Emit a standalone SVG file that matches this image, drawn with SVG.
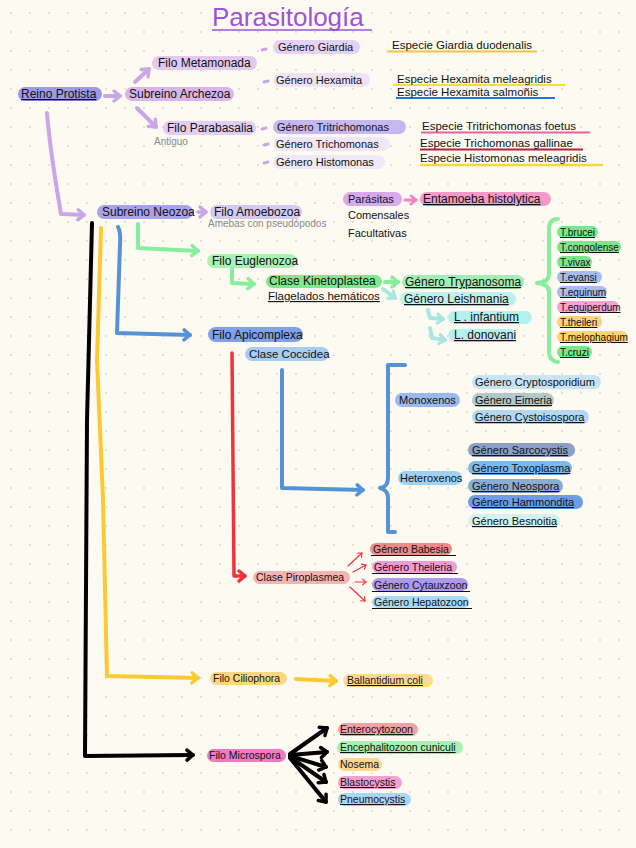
<svg xmlns="http://www.w3.org/2000/svg" width="636" height="848" viewBox="0 0 636 848">
<defs>
<pattern id="dots" x="10" y="12" width="19" height="19" patternUnits="userSpaceOnUse"><circle cx="1" cy="1" r="0.9" fill="#d6d3c6"/></pattern>
<marker id="mPurple" viewBox="0 0 12 12" markerWidth="12" markerHeight="12" refX="9" refY="6" orient="auto" markerUnits="userSpaceOnUse" overflow="visible"><path d="M3,1 L9,6 L3,11" fill="none" stroke="#c9a6e6" stroke-width="3.5" stroke-linecap="round" stroke-linejoin="round"/></marker>
<marker id="mPink" viewBox="0 0 12 12" markerWidth="10" markerHeight="10" refX="9" refY="6" orient="auto" markerUnits="userSpaceOnUse" overflow="visible"><path d="M3,1 L9,6 L3,11" fill="none" stroke="#f27fc0" stroke-width="3" stroke-linecap="round" stroke-linejoin="round"/></marker>
<marker id="mGreen" viewBox="0 0 12 12" markerWidth="12" markerHeight="12" refX="9" refY="6" orient="auto" markerUnits="userSpaceOnUse" overflow="visible"><path d="M3,1 L9,6 L3,11" fill="none" stroke="#86ee9c" stroke-width="3.5" stroke-linecap="round" stroke-linejoin="round"/></marker>
<marker id="mCyan" viewBox="0 0 12 12" markerWidth="11" markerHeight="11" refX="9" refY="6" orient="auto" markerUnits="userSpaceOnUse" overflow="visible"><path d="M3,1 L9,6 L3,11" fill="none" stroke="#a8e6e0" stroke-width="3.5" stroke-linecap="round" stroke-linejoin="round"/></marker>
<marker id="mBlue" viewBox="0 0 12 12" markerWidth="12" markerHeight="12" refX="9" refY="6" orient="auto" markerUnits="userSpaceOnUse" overflow="visible"><path d="M3,1 L9,6 L3,11" fill="none" stroke="#5593d8" stroke-width="3.5" stroke-linecap="round" stroke-linejoin="round"/></marker>
<marker id="mYellow" viewBox="0 0 12 12" markerWidth="12" markerHeight="12" refX="9" refY="6" orient="auto" markerUnits="userSpaceOnUse" overflow="visible"><path d="M3,1 L9,6 L3,11" fill="none" stroke="#fcc935" stroke-width="3.5" stroke-linecap="round" stroke-linejoin="round"/></marker>
<marker id="mBlack" viewBox="0 0 12 12" markerWidth="12" markerHeight="12" refX="9" refY="6" orient="auto" markerUnits="userSpaceOnUse" overflow="visible"><path d="M3,1 L9,6 L3,11" fill="none" stroke="#000" stroke-width="3.5" stroke-linecap="round" stroke-linejoin="round"/></marker>
<marker id="mRed" viewBox="0 0 12 12" markerWidth="12" markerHeight="12" refX="9" refY="6" orient="auto" markerUnits="userSpaceOnUse" overflow="visible"><path d="M3,1 L9,6 L3,11" fill="none" stroke="#f3303e" stroke-width="3.5" stroke-linecap="round" stroke-linejoin="round"/></marker>
<marker id="mRedThin" viewBox="0 0 12 12" markerWidth="7" markerHeight="7" refX="9" refY="6" orient="auto" markerUnits="userSpaceOnUse" overflow="visible"><path d="M3,1 L9,6 L3,11" fill="none" stroke="#f3303e" stroke-width="2" stroke-linecap="round" stroke-linejoin="round"/></marker>
</defs>
<style>
text{font-family:"Liberation Sans","Open Sans",sans-serif;font-size:12px;fill:#111}
.s115{font-size:11.5px}
.s11{font-size:11px}
.s10{font-size:10.5px}
.s9{font-size:10px}
.u{text-decoration:underline}
.note{fill:#8a8a8a;font-size:10px}
.c{fill:none;stroke-linecap:round;stroke-linejoin:round}
.pu{stroke:#c9a6e6;stroke-width:4}
.gr{stroke:#86ee9c;stroke-width:4}
.cy{stroke:#a8e6e0;stroke-width:4}
.bl{stroke:#5593d8;stroke-width:4}
.ye{stroke:#fcc935;stroke-width:4}
.bk{stroke:#000;stroke-width:4}
.rd{stroke:#f3303e;stroke-width:3.5}
.rdt{stroke:#f3303e;stroke-width:1.2}
.pk{stroke:#f27fc0;stroke-width:3}
</style>
<rect width="636" height="848" fill="#fdfbf1"/>
<rect width="636" height="848" fill="url(#dots)"/>

<g id="title">
<text x="212" y="26" style="font-size:26px;fill:#9b55d6">Parasitología</text>
<line x1="212" y1="30" x2="372" y2="30" stroke="#9b55d6" stroke-width="1.5"/>
</g>

<g id="connectors">
<path class="c pu" d="M105,96 L120,96" marker-end="url(#mPurple)"/>
<path class="c pu" d="M135,82 L149,69" marker-end="url(#mPurple)"/>
<path class="c pu" d="M137,108 L156,127" marker-end="url(#mPurple)"/>
<path class="c pu" style="stroke-width:3" d="M262,50 L266,49 M264,82 L268,81 M262,129 L266,128 M264,145 L268,144 M264,163 L268,162"/>
<path class="c pu" d="M47,113 C50,150 56,185 61,214 L84,215" marker-end="url(#mPurple)"/>
<path class="c pu" style="stroke-width:3.5" d="M198,212 L206,212" marker-end="url(#mPurple)"/>
<path class="c pk" d="M405,200 L416,200" marker-end="url(#mPink)"/>
<path class="c gr" d="M138,224 L138,248 L198,251" marker-end="url(#mGreen)"/>
<path class="c gr" d="M232,268 L232,283 L254,284" marker-end="url(#mGreen)"/>
<path class="c gr" d="M385,282 L398,282" marker-end="url(#mGreen)"/>
<path class="c cy" d="M383,289 L395,298" marker-end="url(#mCyan)"/>
<path class="c cy" d="M428,310 L430,318 L443,319" marker-end="url(#mCyan)"/>
<path class="c cy" d="M430,328 L432,338 L445,340" marker-end="url(#mCyan)"/>
<path class="c gr" d="M558,219 Q549,219 549,229 L549,274 Q549,282 537,283 Q549,284 549,292 L549,352 Q549,361 558,362"/>
<path class="c bl" d="M118,227 Q121,232 120,245 L117,333 L190,335" marker-end="url(#mBlue)"/>
<path class="c bl" d="M282,370 L282,488 L363,490" marker-end="url(#mBlue)"/>
<path class="c bl" d="M405,365 L388,365 L388,478 Q388,487 380,488 Q388,490 388,498 L388,532 L395,532"/>
<path class="c rd" d="M232,353 L234,576 L245,576" marker-end="url(#mRed)"/>
<path class="c rdt" d="M348,566 L362,553" marker-end="url(#mRedThin)"/>
<path class="c rdt" d="M353,572 L366,565" marker-end="url(#mRedThin)"/>
<path class="c rdt" d="M355,582 L366,582" marker-end="url(#mRedThin)"/>
<path class="c rdt" d="M350,587 L365,601" marker-end="url(#mRedThin)"/>
<path class="c ye" d="M101,228 L97,360 L103,500 L107,676 L198,678" marker-end="url(#mYellow)"/>
<path class="c ye" d="M296,679 L336,681" marker-end="url(#mYellow)"/>
<path class="c bk" d="M92,223 L87,420 L85,756 L193,755" marker-end="url(#mBlack)"/>
<path class="c bk" d="M290,754 L327,728" marker-end="url(#mBlack)"/>
<path class="c bk" d="M290,755 L327,752" marker-end="url(#mBlack)"/>
<path class="c bk" d="M290,756 L326,767" marker-end="url(#mBlack)"/>
<path class="c bk" d="M290,757 L326,782" marker-end="url(#mBlack)"/>
<path class="c bk" d="M290,758 L326,802" marker-end="url(#mBlack)"/>
</g>

<g id="reino"><rect x="18" y="87" width="84" height="14" rx="7" fill="#9d99e8"/><text x="21" y="98" class="u">Reino Protista</text></g>
<g id="archezoa"><rect x="125" y="87" width="109" height="14" rx="7" fill="#d8b6ec"/><text x="129" y="98">Subreino Archezoa</text></g>
<g id="metamonada"><rect x="152" y="56" width="105" height="14" rx="7" fill="#e3c8f0"/><text x="158" y="67">Filo Metamonada</text></g>
<g id="parabasalia"><rect x="163" y="121" width="93" height="14" rx="7" fill="#e3cdf2"/><text x="167" y="132">Filo Parabasalia</text><text x="154" y="145" class="note">Antiguo</text></g>
<g id="giardia"><rect x="273" y="40" width="87" height="14" rx="7" fill="#e5d2f3"/><text x="278" y="51" class="s11">Género Giardia</text></g>
<g id="hexamita"><rect x="273" y="73" width="97" height="14" rx="7" fill="#eee2f6"/><text x="276" y="84" class="s11">Género Hexamita</text></g>
<g id="tritrichomonas"><rect x="273" y="120" width="133" height="14" rx="7" fill="#c5b8f0"/><text x="277" y="131" class="s11">Género Tritrichomonas</text></g>
<g id="trichomonas"><rect x="273" y="137" width="117" height="14" rx="7" fill="#efe6f7"/><text x="276" y="148" class="s11">Género Trichomonas</text></g>
<g id="histomonas"><rect x="273" y="155" width="112" height="14" rx="7" fill="#efe8f7"/><text x="276" y="166" class="s11">Género Histomonas</text></g>

<g id="sp-giardia"><line x1="387" y1="51.5" x2="537" y2="51.5" stroke="#f6c343" stroke-width="2"/><text x="392" y="49" class="s115">Especie Giardia duodenalis</text></g>
<g id="sp-hex1"><line x1="393" y1="85" x2="565" y2="85" stroke="#f5e02c" stroke-width="2"/><text x="397" y="83" class="s115">Especie Hexamita meleagridis</text></g>
<g id="sp-hex2"><line x1="396" y1="98" x2="555" y2="98" stroke="#1f74e6" stroke-width="2"/><text x="397" y="96" class="s115">Especie Hexamita salmoñis</text></g>
<g id="sp-trit"><line x1="421" y1="132.5" x2="590" y2="132.5" stroke="#e8609e" stroke-width="2"/><text x="422" y="130" class="s115">Especie Tritrichomonas foetus</text></g>
<g id="sp-trich"><line x1="420" y1="149.5" x2="583" y2="149.5" stroke="#b0243a" stroke-width="2"/><text x="420" y="147" class="s115">Especie Trichomonas gallinae</text></g>
<g id="sp-hist"><line x1="420" y1="165" x2="603" y2="165" stroke="#f5d93b" stroke-width="2.5"/><text x="420" y="162" class="s115">Especie Histomonas meleagridis</text></g>

<g id="neozoa"><rect x="97" y="205" width="96" height="14" rx="7" fill="#a9a2ea"/><text x="102" y="216">Subreino Neozoa</text></g>
<g id="amoebozoa"><rect x="210" y="205" width="92" height="14" rx="7" fill="#d3c9f2"/><text x="214" y="216">Filo Amoebozoa</text><text x="208" y="227" class="note">Amebas con pseudópodos</text></g>
<g id="parasitas"><rect x="343" y="192" width="59" height="14" rx="7" fill="#d7aaee"/><text x="348" y="203" class="s11">Parásitas</text></g>
<g id="entamoeba"><rect x="420" y="192" width="131" height="14" rx="7" fill="#f59ac8"/><text x="423" y="203" class="u">Entamoeba histolytica</text></g>
<g id="comensales"><text x="348" y="219" class="s11">Comensales</text></g>
<g id="facultativas"><text x="348" y="237" class="s11">Facultativas</text></g>

<g id="euglenozoa"><rect x="207" y="254" width="90" height="14" rx="7" fill="#a8f2b4"/><text x="212" y="265">Filo Euglenozoa</text></g>
<g id="kinetoplastea"><rect x="266" y="275" width="116" height="13" rx="6.5" fill="#7eea8e"/><text x="269" y="285">Clase Kinetoplastea</text><text x="268" y="300" class="s115 u">Flagelados hemáticos</text></g>
<g id="trypanosoma"><rect x="402" y="275" width="122" height="14" rx="7" fill="#a3ecb3"/><text x="405" y="286" class="u">Género Trypanosoma</text></g>
<g id="leishmania"><rect x="400" y="292" width="116" height="14" rx="7" fill="#bdf0ee"/><text x="404" y="303" class="u">Género Leishmania</text></g>
<g id="infantium"><rect x="448" y="311" width="84" height="13" rx="6.5" fill="#b4f2f0"/><text x="454" y="321" class="u">L . infantium</text></g>
<g id="donovani"><rect x="448" y="329" width="68" height="13" rx="6.5" fill="#b4f2f0"/><text x="454" y="339" class="u">L. donovani</text></g>

<g id="t-brucei"><rect x="557" y="226" width="41" height="12" rx="6" fill="#7de68b"/><text x="560" y="236" class="s9 u">T.brucei</text></g>
<g id="t-congolense"><rect x="557" y="241" width="64" height="12" rx="6" fill="#7de68b"/><text x="560" y="251" class="s9 u">T.congolense</text></g>
<g id="t-vivax"><rect x="557" y="256" width="35" height="12" rx="6" fill="#7de68b"/><text x="560" y="266" class="s9 u">T.vivax</text></g>
<g id="t-evansi"><rect x="557" y="271" width="45" height="12" rx="6" fill="#a8bdef"/><text x="560" y="281" class="s9 u">T.evansi</text></g>
<g id="t-equinum"><rect x="557" y="286" width="50" height="12" rx="6" fill="#a8bdef"/><text x="560" y="296" class="s9 u">T.equinum</text></g>
<g id="t-equiperdum"><rect x="557" y="301" width="62" height="12" rx="6" fill="#f4a3d2"/><text x="560" y="311" class="s9 u">T.equiperdum</text></g>
<g id="t-theileri"><rect x="557" y="316" width="45" height="12" rx="6" fill="#fbd37a"/><text x="560" y="326" class="s9 u">T.theileri</text></g>
<g id="t-melophagium"><rect x="557" y="331" width="71" height="12" rx="6" fill="#fbd37a"/><text x="560" y="341" class="s9 u">T.melophagium</text></g>
<g id="t-cruzi"><rect x="557" y="346" width="35" height="12" rx="6" fill="#7de68b"/><text x="560" y="356" class="s9 u">T.cruzi</text></g>

<g id="apicomplexa"><rect x="208" y="327" width="95" height="15" rx="7.5" fill="#7fa2ea"/><text x="212" y="339">Filo Apicomplexa</text></g>
<g id="coccidea"><rect x="245" y="347" width="84" height="14" rx="7" fill="#a8cdf2"/><text x="249" y="358" class="s115">Clase Coccidea</text></g>
<g id="monoxenos"><rect x="395" y="393" width="65" height="14" rx="7" fill="#9db7f0"/><text x="399" y="404" class="s11">Monoxenos</text></g>
<g id="heteroxenos"><rect x="398" y="471" width="64" height="14" rx="7" fill="#9fd1f2"/><text x="400" y="482" class="s11">Heteroxenos</text></g>
<g id="cryptosporidium"><rect x="472" y="375" width="129" height="14" rx="7" fill="#c8e3f3"/><text x="475" y="386" class="s11">Género Cryptosporidium</text></g>
<g id="eimeria"><rect x="472" y="393" width="82" height="14" rx="7" fill="#b3c8c9"/><text x="475" y="404" class="s11 u">Género Eimeria</text></g>
<g id="cystoisospora"><rect x="472" y="410" width="117" height="14" rx="7" fill="#b2d8f2"/><text x="475" y="421" class="s11 u">Género Cystoisospora</text></g>
<g id="sarcocystis"><rect x="468" y="443" width="107" height="14" rx="7" fill="#8c9fc6"/><text x="472" y="454" class="s11 u">Género Sarcocystis</text></g>
<g id="toxoplasma"><rect x="468" y="461" width="104" height="14" rx="7" fill="#7bb9ee"/><text x="472" y="472" class="s11 u">Género Toxoplasma</text></g>
<g id="neospora"><rect x="468" y="479" width="95" height="14" rx="7" fill="#8aaed3"/><text x="472" y="490" class="s11 u">Género Neospora</text></g>
<g id="hammondita"><rect x="468" y="495" width="115" height="14" rx="7" fill="#6f9ce8"/><text x="472" y="506" class="s11 u">Género Hammondita</text></g>
<g id="besnoitia"><rect x="468" y="514" width="92" height="14" rx="7" fill="#d2f3f1"/><text x="472" y="525" class="s11 u">Género Besnoitia</text></g>

<g id="piroplasmea"><rect x="253" y="571" width="97" height="13" rx="6.5" fill="#f4b4b4"/><text x="256" y="581" class="s10">Clase Piroplasmea</text></g>
<g id="babesia"><rect x="370" y="543" width="82" height="12" rx="6" fill="#ee8a8a"/><text x="373" y="553" class="s10">Género Babesia</text><line x1="371" y1="555.5" x2="456" y2="555.5" stroke="#111" stroke-width="1"/></g>
<g id="theileria"><rect x="372" y="561" width="85" height="12" rx="6" fill="#f09bd8"/><text x="374" y="571" class="s10">Género Theileria</text><line x1="372" y1="573.5" x2="458" y2="573.5" stroke="#111" stroke-width="1"/></g>
<g id="cytauxzoon"><rect x="372" y="578" width="96" height="13" rx="6.5" fill="#a99af0"/><text x="374" y="589" class="s10">Género Cytauxzoon</text><line x1="372" y1="591.5" x2="470" y2="591.5" stroke="#111" stroke-width="1"/></g>
<g id="hepatozoon"><rect x="372" y="596" width="97" height="12" rx="6" fill="#a8daf6"/><text x="374" y="606" class="s10">Género Hepatozoon</text><line x1="372" y1="608.5" x2="472" y2="608.5" stroke="#111" stroke-width="1"/></g>

<g id="ciliophora"><rect x="210" y="672" width="77" height="13" rx="6.5" fill="#fcd681"/><text x="213" y="682" class="s10">Filo Ciliophora</text></g>
<g id="ballantidium"><rect x="343" y="674" width="90" height="13" rx="6.5" fill="#fdda90"/><text x="347" y="684" class="s10 u">Ballantidium coli</text></g>

<g id="microspora"><rect x="207" y="749" width="79" height="13" rx="6.5" fill="#f27ac2"/><text x="209" y="759" class="s10">Filo Microspora</text></g>
<g id="enterocytozoon"><rect x="338" y="723" width="80" height="13" rx="6.5" fill="#f2a2a2"/><text x="340" y="733" class="s10 u">Enterocytozoon</text></g>
<g id="encephalitozoon"><rect x="337" y="741" width="126" height="13" rx="6.5" fill="#a6f2b0"/><text x="340" y="751" class="s10 u">Encephalitozoon cuniculi</text></g>
<g id="nosema"><rect x="338" y="758" width="44" height="13" rx="6.5" fill="#fdd792"/><text x="340" y="768" class="s10">Nosema</text></g>
<g id="blastocystis"><rect x="338" y="776" width="64" height="13" rx="6.5" fill="#f5a2d2"/><text x="340" y="786" class="s10 u">Blastocystis</text></g>
<g id="pneumocystis"><rect x="338" y="793" width="73" height="13" rx="6.5" fill="#a9d6f6"/><text x="340" y="803" class="s10 u">Pneumocystis</text></g>
</svg>
